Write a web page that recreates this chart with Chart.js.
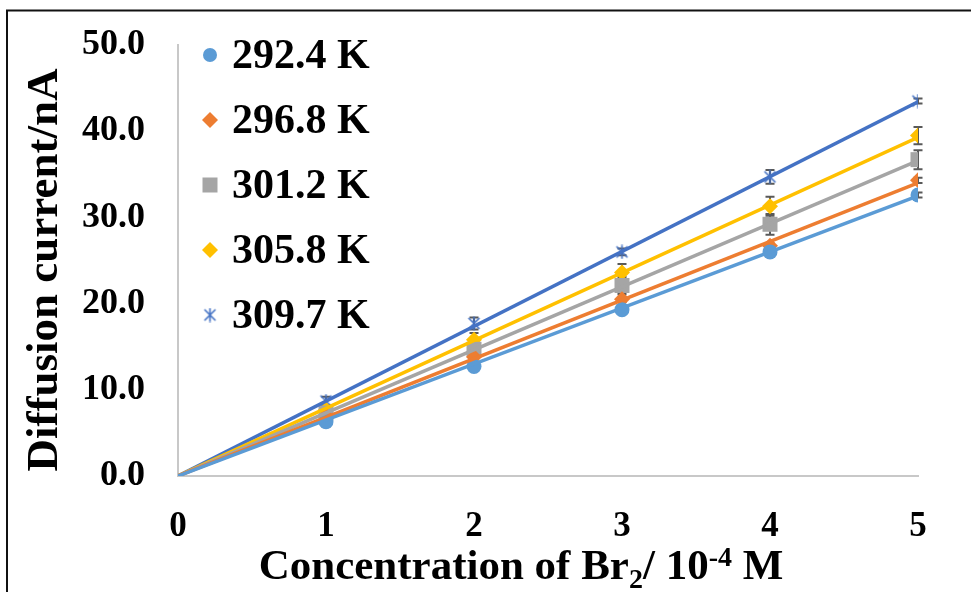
<!DOCTYPE html>
<html>
<head>
<meta charset="utf-8">
<script src="https://cdn.jsdelivr.net/npm/chart.js@4.4.1/dist/chart.umd.min.js"></script>
<style>
  html, body { margin: 0; padding: 0; background: #fff; }
  #wrap { width: 971px; height: 592px; position: relative; }
</style>
</head>
<body>
<div id="wrap"><canvas id="chart" width="971" height="592"></canvas></div>
<script>
// concentration of Br2 / 10^-4 M
const concentration = [1, 2, 3, 4, 5];
const seriesLabels = ['292.4 K', '296.8 K', '301.2 K', '305.8 K', '309.7 K'];

// diffusion current / nA
const current292 = [6.3, 12.7, 19.3, 26.0, 32.6];
const current296 = [7.0, 13.8, 20.5, 26.7, 34.3];
const current301 = [7.3, 14.7, 22.1, 29.2, 36.7];
const current305 = [7.7, 15.8, 23.6, 31.3, 39.5];
const current309 = [8.7, 17.7, 26.0, 34.7, 43.5];

// error bar half-widths
const err292 = [0.6, 0.3, 0.3, 0.3, 0.3];
const err296 = [0.3, 0.3, 0.3, 0.3, 0.3];
const err301 = [0.3, 0.8, 1.0, 1.2, 1.1];
const err305 = [0.3, 0.8, 1.0, 1.1, 1.0];
const err309 = [0.5, 0.7, 0.4, 0.8, 0.3];

// linear trendlines through the origin, value reached at x = 5
const trendStart = [0, 0, 0, 0, 0];
const trendEnd = [32.5, 34.0, 36.6, 39.3, 43.4];

const yTicks = [0, 10, 20, 30, 40, 50];
const xTicks = [0, 1, 2, 3, 4, 5];

const colors = ['#5B9BD5', '#ED7D31', '#A5A5A5', '#FFC000', '#4472C4'];
const FONT = "'Liberation Serif', 'Times New Roman', serif";

// excel-like "x with a bar" marker
function makeStar(size, color) {
    const c = document.createElement('canvas');
    c.width = size; c.height = size;
    const g = c.getContext('2d');
    g.strokeStyle = color;
    g.lineWidth = 1.6;
    g.beginPath();
    g.moveTo(2, 2); g.lineTo(size - 2, size - 2);
    g.moveTo(size - 2, 2); g.lineTo(2, size - 2);
    g.moveTo(size / 2, 0.5); g.lineTo(size / 2, size - 0.5);
    g.stroke();
    return c;
}
const starImg = makeStar(15, colors[4]);

const currents = [current292, current296, current301, current305, current309];
const errs = [err292, err296, err301, err305, err309];
const styles = ['circle', 'rectRot', 'rect', 'rectRot', starImg];
const radii = [7.5, 8, 10.6, 8, 7.5];

const datasets = [];
currents.forEach((vals, i) => {
    datasets.push({
        label: seriesLabels[i],
        data: concentration.map((c, j) => ({ x: c, y: vals[j] })),
        errors: errs[i],
        showLine: false,
        pointStyle: styles[i],
        pointRadius: radii[i],
        pointBackgroundColor: colors[i],
        pointBorderColor: colors[i],
        pointBorderWidth: 0,
        order: 2
    });
});
currents.forEach((vals, i) => {
    datasets.push({
        label: seriesLabels[i] + ' trend',
        trend: true,
        data: [{ x: 0, y: trendStart[i] }, { x: 5, y: trendEnd[i] }],
        showLine: true,
        borderColor: colors[i],
        borderWidth: 3.5,
        pointRadius: 0,
        order: 1
    });
});

const decorPlugin = {
    id: 'decor',
    beforeDatasetsDraw(chart) {
        const ctx = chart.ctx;
        const xs = chart.scales.x, ys = chart.scales.y;
        ctx.save();
        ctx.strokeStyle = '#595959';
        ctx.lineWidth = 2;
        chart.data.datasets.forEach(ds => {
            if (!ds.errors) return;
            ds.data.forEach((p, j) => {
                const e = ds.errors[j];
                const px = xs.getPixelForValue(p.x);
                const y1 = ys.getPixelForValue(p.y + e);
                const y2 = ys.getPixelForValue(p.y - e);
                ctx.beginPath();
                ctx.moveTo(px, y1); ctx.lineTo(px, y2);
                ctx.moveTo(px - 4.5, y1); ctx.lineTo(px + 4.5, y1);
                ctx.moveTo(px - 4.5, y2); ctx.lineTo(px + 4.5, y2);
                ctx.stroke();
            });
        });
        ctx.restore();
    },
    afterDraw(chart) {
        const ctx = chart.ctx;
        ctx.save();
        // outer frame (top and left visible)
        ctx.strokeStyle = '#111';
        ctx.lineWidth = 2;
        ctx.beginPath();
        ctx.moveTo(7, 600); ctx.lineTo(7, 10.5); ctx.lineTo(980, 10.5);
        ctx.stroke();

        // legend
        const series = chart.data.datasets.filter(d => !d.trend);
        ctx.fillStyle = '#000';
        ctx.font = 'bold 42px ' + FONT;
        ctx.textBaseline = 'middle';
        ctx.textAlign = 'left';
        series.forEach((ds, i) => {
            const cy = 55 + i * 65;
            const cx = 210;
            ctx.fillStyle = ds.pointBackgroundColor;
            if (ds.pointStyle === 'circle') {
                ctx.beginPath(); ctx.arc(cx, cy, 7, 0, Math.PI * 2); ctx.fill();
            } else if (ds.pointStyle === 'rect') {
                ctx.fillRect(cx - 7.5, cy - 7.5, 15, 15);
            } else if (ds.pointStyle === 'rectRot') {
                ctx.beginPath();
                ctx.moveTo(cx - 8, cy); ctx.lineTo(cx, cy - 8);
                ctx.lineTo(cx + 8, cy); ctx.lineTo(cx, cy + 8);
                ctx.closePath(); ctx.fill();
            } else {
                ctx.drawImage(ds.pointStyle, cx - 7.5, cy - 7.5);
            }
            ctx.fillStyle = '#000';
            ctx.fillText(ds.label, 232, cy + 2);
        });

        // y axis title
        ctx.save();
        ctx.font = 'bold 45px ' + FONT;
        ctx.textAlign = 'center';
        ctx.textBaseline = 'alphabetic';
        ctx.translate(57, 270);
        ctx.rotate(-Math.PI / 2);
        ctx.fillText('Diffusion current/nA', 0, 0);
        ctx.restore();

        // x axis title with sub/superscript
        const big = 'bold 43px ' + FONT, small = 'bold 28px ' + FONT;
        const parts = [
            { t: 'Concentration of Br', f: big, dy: 0 },
            { t: '2', f: small, dy: 9 },
            { t: '/ 10', f: big, dy: 0 },
            { t: '-4', f: small, dy: -13 },
            { t: ' M', f: big, dy: 0 }
        ];
        let total = 0;
        parts.forEach(p => { ctx.font = p.f; p.w = ctx.measureText(p.t).width; total += p.w; });
        let x = 521 - total / 2;
        ctx.textAlign = 'left';
        ctx.textBaseline = 'alphabetic';
        parts.forEach(p => {
            ctx.font = p.f;
            ctx.fillText(p.t, x, 579 + p.dy);
            x += p.w;
        });
        ctx.restore();
    }
};

new Chart(document.getElementById('chart'), {
    type: 'scatter',
    data: { datasets },
    options: {
        responsive: false,
        animation: false,
        layout: { padding: { top: 45, right: 53, left: 0, bottom: 0 } },
        plugins: { legend: { display: false }, tooltip: { enabled: false } },
        scales: {
            x: {
                type: 'linear',
                min: xTicks[0],
                max: xTicks[xTicks.length - 1],
                afterFit: s => {
                    s.height = 116;
                    s.paddingLeft = 0; s.paddingRight = 0;
                },
                afterBuildTicks: s => { s.ticks = xTicks.map(v => ({ value: v })); },
                grid: { display: false, drawTicks: false },
                border: { display: true, color: '#C8C8C8', width: 2 },
                ticks: {
                    padding: 30,
                    color: '#000',
                    font: { family: FONT, size: 35, weight: 'bold' },
                    callback: v => String(v)
                }
            },
            y: {
                min: yTicks[0],
                max: yTicks[yTicks.length - 1],
                afterFit: s => {
                    s.width = 178;
                    s.paddingTop = 0; s.paddingBottom = 0;
                },
                afterBuildTicks: s => { s.ticks = yTicks.map(v => ({ value: v })); },
                grid: { display: false, drawTicks: false },
                border: { display: true, color: '#C8C8C8', width: 2 },
                ticks: {
                    padding: 33,
                    color: '#000',
                    font: { family: FONT, size: 36, weight: 'bold' },
                    callback: v => Number(v).toFixed(1)
                }
            }
        }
    },
    plugins: [decorPlugin]
});
</script>
</body>
</html>
